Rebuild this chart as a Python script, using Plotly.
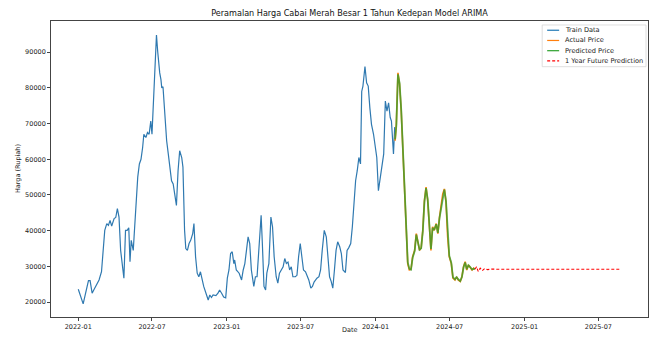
import pandas as pd
import plotly.graph_objects as go

# Day offsets are counted from 2022-01-01
START = pd.Timestamp("2022-01-01")

train_day = [0, 7, 12, 17, 25, 29, 34, 38, 45, 51, 57, 61, 65, 70, 74, 78, 82, 88, 92, 96,
             100, 104, 108, 112, 116, 120, 124, 127, 130, 135, 137, 141, 146, 150, 154, 158,
             161, 166, 170, 174, 178, 181, 186, 188, 192, 195, 198, 200, 203, 205, 208, 213,
             217, 221, 225, 229, 233, 237, 241, 245, 249, 254, 257, 261, 264, 268, 272, 276,
             281, 284, 288, 292, 296, 300, 304, 308, 315, 319, 323, 327, 331, 338, 343, 347,
             352, 357, 362, 366, 370, 374, 378, 382, 384, 388, 395, 401, 405, 409, 413, 417,
             421, 425, 431, 435, 439, 444, 449, 452, 456, 460, 463, 468, 473, 477, 481, 486,
             490, 494, 499, 503, 507, 511, 515, 519, 523, 527, 533, 537, 541, 545, 549, 553,
             558, 563, 566, 571, 575, 579, 586, 591, 595, 599, 604, 609, 613, 617, 621, 625,
             629, 633, 637, 642, 646, 650, 656, 660, 664, 669, 673, 677, 681, 685, 689, 693,
             696, 699, 704, 708, 712, 716, 720, 725, 729, 733, 737, 741, 745, 750, 754, 758,
             762, 766, 769, 774, 777]
train_price = [23600, 21400, 19500, 22000, 26000, 26000, 22500, 23400, 24800, 26200, 28500,
               34500, 40100, 42000, 41500, 42900, 41300, 43400, 43700, 46200, 43800, 34500,
               30800, 26700, 40100, 40100, 40800, 31300, 37300, 34500, 38300, 47500, 55000,
               58700, 60000, 63300, 67000, 66100, 67500, 67000, 70700, 67000, 79000, 85600,
               94800, 90200, 85600, 84200, 82300, 80000, 80300, 69800, 65200, 61500, 57800,
               54000, 53100, 49400, 47100, 56800, 62400, 60500, 57800, 40100, 35000, 34500,
               36400, 37300, 39200, 42000, 32700, 28100, 27100, 28500, 26200, 24400, 22000,
               20600, 22000, 21300, 22000, 21800, 22500, 23400, 22500, 21400, 21200, 26700,
               29000, 33600, 34100, 30800, 31800, 29000, 28100, 26200, 29000, 30800, 34500,
               38300, 36400, 29000, 24400, 27100, 27100, 36400, 44300, 36400, 24400, 23400,
               28100, 30800, 43800, 41100, 32700, 27100, 25300, 28100, 29000, 29900, 32200,
               30800, 31200, 29000, 29900, 27100, 27100, 27500, 32700, 36400, 32700, 29000,
               28500, 27100, 26200, 23900, 24400, 25600, 26700, 27100, 29000, 34500, 40100,
               38300, 33600, 27100, 25800, 23900, 29000, 34500, 36900, 35500, 33600, 29000,
               28300, 34500, 35200, 36400, 41100, 47500, 54000, 56800, 60500, 58700, 79000,
               80500, 86000, 81400, 80500, 74400, 69800, 67000, 64200, 60500, 51200, 54000,
               57800, 61500, 76300, 73500, 75800, 71700, 70700, 61500, 69000]

test_day = [778, 781, 785, 789, 793, 797, 801, 804, 807, 809, 813, 817, 821, 826, 830, 834,
            838, 842, 846, 850, 854, 858, 862, 866, 870, 874, 879, 883, 887, 891, 895, 899,
            903, 907, 911, 916, 920, 925, 929, 933, 938, 942, 946, 950, 954, 958, 962, 967,
            971, 974]
actual_price = [65200, 69800, 84200, 80900, 73500, 62400, 55000, 46600, 37300, 30800, 29000,
                29200, 32700, 34500, 39200, 36400, 34500, 35200, 40100, 48500, 52200, 48500,
                40100, 34500, 41100, 40100, 42000, 39200, 43800, 46600, 50300, 51700, 48000,
                38300, 32700, 30800, 26700, 26200, 27100, 26200, 25800, 27100, 29900, 31300,
                29000, 30400, 29900, 29000, 29500, 29200]
predicted_price = [65600, 69400, 83800, 81300, 73900, 62900, 55400, 47100, 37800, 31200,
                   29300, 29100, 32400, 34300, 38900, 36700, 34700, 35100, 39800, 48100,
                   51900, 48800, 40500, 34900, 40800, 40200, 41800, 39400, 43500, 46300,
                   50000, 51500, 48300, 38700, 33000, 31000, 27000, 26400, 27000, 26400,
                   25900, 27000, 29700, 31100, 29200, 30300, 29900, 29100, 29400, 29200]

future_day = [974, 978, 982, 987, 992, 998, 1005, 1015, 1030, 1332]
future_price = [29200, 29900, 28600, 29500, 28800, 29400, 29100, 29250, 29200, 29200]

Y_TICKS = [20000, 30000, 40000, 50000, 60000, 70000, 80000, 90000]


def to_dates(days):
    return [START + pd.Timedelta(days=d) for d in days]


FONT = "DejaVu Sans"
W, H = 656, 338
# plot area in pixels
L, R, T, B = 51, 649, 21, 319

fig = go.Figure()
fig.add_trace(go.Scatter(x=to_dates(train_day), y=train_price, mode="lines",
                         line=dict(color="#2f79b0", width=1.2), name="Train Data"))
fig.add_trace(go.Scatter(x=to_dates(test_day), y=actual_price, mode="lines",
                         line=dict(color="#ff7f0e", width=1.6), name="Actual Price"))
fig.add_trace(go.Scatter(x=to_dates(test_day), y=predicted_price, mode="lines",
                         line=dict(color="#2ca02c", width=1.8), opacity=0.75,
                         name="Predicted Price"))
fig.add_trace(go.Scatter(x=to_dates(future_day), y=future_price, mode="lines",
                         line=dict(color="#ff0000", width=1.1, dash="3px,2px"),
                         name="1 Year Future Prediction"))


def px_x(x):
    return (x - L) / (R - L)


def px_y(y):
    return (B - y) / (B - T)


# legend box drawn by hand (short line samples like matplotlib)
legend_items = [("Train Data", "#1f77b4", "solid"),
                ("Actual Price", "#ff7f0e", "solid"),
                ("Predicted Price", "#2ca02c", "solid"),
                ("1 Year Future Prediction", "#ff0000", "3px,2px")]
shapes = [dict(type="rect", xref="paper", yref="paper",
               x0=px_x(543), x1=px_x(647), y0=px_y(67), y1=px_y(25),
               line=dict(color="#d6d6d6", width=0.8), fillcolor="rgba(255,255,255,0.8)",
               layer="above")]
annotations = []
for i, (label, color, dash) in enumerate(legend_items):
    yy = 30.3 + i * 10.3
    shapes.append(dict(type="line", xref="paper", yref="paper",
                       x0=px_x(548), x1=px_x(560), y0=px_y(yy), y1=px_y(yy),
                       line=dict(color=color, width=1.2, dash=dash), layer="above"))
    annotations.append(dict(x=px_x(564), y=px_y(yy), xref="paper", yref="paper",
                            text=label, showarrow=False, xanchor="left", yanchor="middle",
                            font=dict(family=FONT, size=6.6, color="#222")))

annotations.append(dict(x=px_x(18), y=px_y(170), xref="paper", yref="paper",
                        text="Harga (Rupiah)", textangle=-90, showarrow=False,
                        xanchor="center", yanchor="middle",
                        font=dict(family=FONT, size=6.5, color="#222")))
annotations.append(dict(x=px_x(350), y=px_y(338), xref="paper", yref="paper",
                        text="Date", showarrow=False, xanchor="center", yanchor="bottom",
                        font=dict(family=FONT, size=6.5, color="#222")))

fig.update_layout(
    width=W, height=H,
    margin=dict(l=L, r=W - R, t=T, b=H - B, pad=0),
    paper_bgcolor="white", plot_bgcolor="white",
    showlegend=False,
    font=dict(family=FONT, size=6.5, color="#222"),
    title=dict(text="Peramalan Harga Cabai Merah Besar 1 Tahun Kedepan Model ARIMA",
               x=349.5 / W, xanchor="center",
               y=1 - 13 / H, yanchor="middle",
               font=dict(family=FONT, size=8.1, color="#111")),
    shapes=shapes, annotations=annotations,
)
fig.update_xaxes(type="date", range=["2021-10-26", "2025-10-31"],
                 tick0="2022-01-01", dtick="M6", tickformat="%Y-%m",
                 ticks="outside", ticklen=3, tickcolor="#444", tickwidth=0.8,
                 showline=True, mirror=True, linecolor="#444", linewidth=0.8,
                 showgrid=False, zeroline=False,
                 tickfont=dict(family=FONT, size=6.5, color="#222"))
fig.update_yaxes(range=[15830, 98730], tickvals=Y_TICKS, tickformat="d",
                 ticks="outside", ticklen=3, tickcolor="#444", tickwidth=0.8,
                 showline=True, mirror=True, linecolor="#444", linewidth=0.8,
                 showgrid=False, zeroline=False,
                 tickfont=dict(family=FONT, size=6.5, color="#222"))

fig.write_html("out.html")
